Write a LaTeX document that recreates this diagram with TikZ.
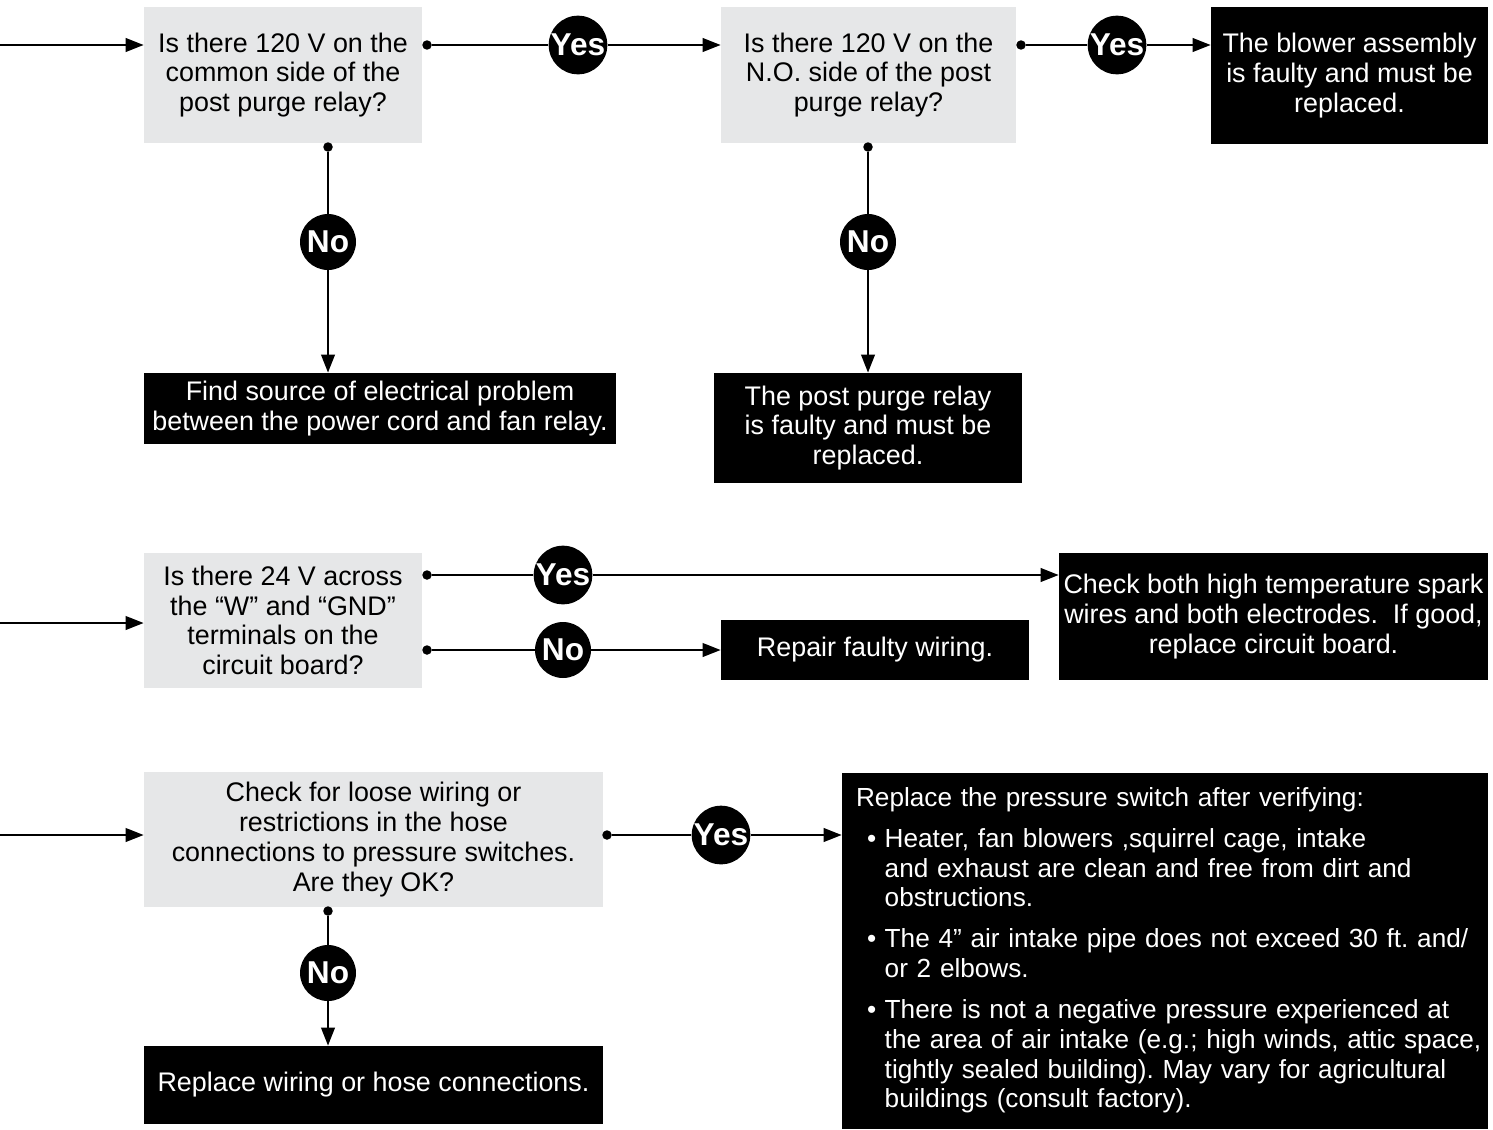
\documentclass[tikz,border=0pt]{standalone}
\usepackage{fontspec}
\setmainfont{Liberation Sans}
\usetikzlibrary{arrows.meta,positioning}

\tikzset{
  qbox/.style={fill=qgray, text=black, inner sep=0pt, align=center, font=\frenchspacing\fontsize{15.3}{16.9}\selectfont},
  abox/.style={fill=black, text=white, inner sep=0pt, align=center, font=\frenchspacing\fontsize{15.3}{16.9}\selectfont},
  yesno/.style={circle, fill=black, text=white, inner sep=0pt, minimum size=1.12cm, font=\bfseries\fontsize{18}{18}\selectfont},
  jointdot/.style={circle, fill=black, inner sep=0pt, minimum size=0.19cm},
  flow/.style={line width=1.3pt},
  flowarrow/.style={flow, -{Triangle[length=0.36cm,width=0.27cm]}},
}

\begin{document}
\begin{tikzpicture}[x=0.02cm, y=-0.02cm]

		% Colors
		\definecolor{qgray}{RGB}{230,231,232}

		\useasboundingbox (0,0) rectangle (1493,1129);

		% Questions
		\node (qcommon) [qbox, minimum width=5.56cm, minimum height=2.72cm] at (283,75) {Is there 120 V on the\\common side of the\\post purge relay?};
		\node (qno) [qbox, minimum width=5.9cm, minimum height=2.72cm] at (868.5,75) {Is there 120 V on the\\N.O. side of the post\\purge relay?};
		\node (qgnd) [qbox, minimum width=5.56cm, minimum height=2.7cm] at (283,620.5) {Is there 24 V across\\the “W” and “GND”\\terminals on the\\circuit board?};
		\node (qhose) [qbox, minimum width=9.18cm, minimum height=2.7cm] at (373.5,839.5) {Check for loose wiring or\\restrictions in the hose\\connections to pressure switches.\\Are they OK?};

		% Actions
		\node (ablower) [abox, minimum width=5.54cm, minimum height=2.74cm] at (1349.5,75.5) {The blower assembly\\is faulty and must be\\replaced.};
		\node (asource) [abox, minimum width=9.44cm, minimum height=1.42cm] at (380,408.5) {Find source of electrical problem\\between the power cord and fan relay.};
		\node (arelay) [abox, minimum width=6.16cm, minimum height=2.2cm] at (868,428) {The post purge relay\\is faulty and must be\\replaced.};
		\node (awiring) [abox, minimum width=6.16cm, minimum height=1.2cm] at (875,650) {Repair faulty wiring.};
		\node (aspark) [abox, minimum width=8.58cm, minimum height=2.54cm] at (1273.5,616.5) {Check both high temperature spark\\wires and both electrodes.~ If good,\\replace circuit board.};
		\node (ahose) [abox, minimum width=9.18cm, minimum height=1.56cm] at (373.5,1085) {Replace wiring or hose connections.};
		\node (aswitch) [abox, align=left, text width=12.36cm, inner xsep=0.28cm, minimum height=7.14cm, font=\frenchspacing\fontsize{14.9}{16.9}\selectfont] at (1165,951) {%
			\begin{tabular}{@{\hspace{0.22cm}}l@{\hspace{0.17cm}}l@{}}
				\multicolumn{2}{@{}l@{}}{Replace the pressure switch after verifying:}\\[6.5pt]
				\textbullet & Heater, fan blowers ,squirrel cage, intake\\
				& and exhaust are clean and free from dirt and\\
				& obstructions.\\[6.5pt]
				\textbullet & The 4” air intake pipe does not exceed 30 ft. and/\\
				& or 2 elbows.\\[6.5pt]
				\textbullet & There is not a negative pressure experienced at\\
				& the area of air intake (e.g.; high winds, attic space,\\
				& tightly sealed building). May vary for agricultural\\
				& buildings (consult factory).
			\end{tabular}};

		% Answers
		\node (yescommon) [yesno] at (578,45) {Yes};
		\node (yesno) [yesno] at (1117,45) {Yes};
		\node (nocommon) [yesno] at (328,242) {No};
		\node (nono) [yesno] at (868,242) {No};
		\node (yesgnd) [yesno] at (563,575) {Yes};
		\node (nognd) [yesno] at (563,650) {No};
		\node (yeshose) [yesno] at (721,835) {Yes};
		\node (nohose) [yesno] at (328,973) {No};

		% Dots
		\node (dcommony) [jointdot] at (427,45) {};
		\node (dnoy) [jointdot] at (1021,45) {};
		\node (dcommonn) [jointdot] at (328,147) {};
		\node (dnon) [jointdot] at (868,147) {};
		\node (dgndy) [jointdot] at (427,575) {};
		\node (dgndn) [jointdot] at (427,650) {};
		\node (dhosey) [jointdot] at (607,835) {};
		\node (dhosen) [jointdot] at (328,911) {};

		% Inputs
		\coordinate (incommon) at (0,45);
		\coordinate (ingnd) at (0,623);
		\coordinate (inhose) at (0,835);

		% Connections
		\draw[flowarrow] (incommon) -- (incommon -| qcommon.west);
		\draw[flowarrow] (ingnd) -- (ingnd -| qgnd.west);
		\draw[flowarrow] (inhose) -- (inhose -| qhose.west);

		\draw[flow] (dcommony) -- (yescommon);
		\draw[flowarrow] (yescommon) -- (yescommon -| qno.west);
		\draw[flow] (dnoy) -- (yesno);
		\draw[flowarrow] (yesno) -- (yesno -| ablower.west);

		\draw[flow] (dcommonn) -- (nocommon);
		\draw[flowarrow] (nocommon) -- (nocommon |- asource.north);
		\draw[flow] (dnon) -- (nono);
		\draw[flowarrow] (nono) -- (arelay.north);

		\draw[flow] (dgndy) -- (yesgnd);
		\draw[flowarrow] (yesgnd) -- (yesgnd -| aspark.west);
		\draw[flow] (dgndn) -- (nognd);
		\draw[flowarrow] (nognd) -- (nognd -| awiring.west);

		\draw[flow] (dhosey) -- (yeshose);
		\draw[flowarrow] (yeshose) -- (yeshose -| aswitch.west);
		\draw[flow] (dhosen) -- (nohose);
		\draw[flowarrow] (nohose) -- (nohose |- ahose.north);

	\end{tikzpicture}
\end{document}
